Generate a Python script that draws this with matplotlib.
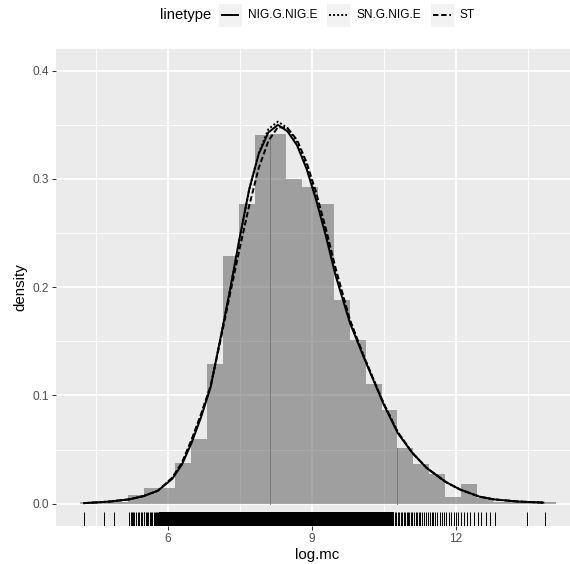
import numpy as np
import matplotlib
matplotlib.use("Agg")
import matplotlib.pyplot as plt
from matplotlib.patches import Rectangle
from matplotlib.lines import Line2D

plt.rcParams['font.family'] = ['Liberation Sans', 'DejaVu Sans']

W, H, DPI = 570, 564, 100

# ---------------- data ----------------
bin_left = 4.179
bin_width = 0.3305
bin_heights = [0.0012, 0.0012, 0.0012, 0.008, 0.0147, 0.0147, 0.038, 0.060,
               0.129, 0.229, 0.277, 0.341, 0.342, 0.300, 0.293, 0.277,
               0.188, 0.151, 0.111, 0.087, 0.0515, 0.037, 0.027, 0.006,
               0.018, 0.005, 0.0013, 0.0028, 0.0028, 0.0013]
overlap_edges = [12, 20]   # bin edges where adjacent bars overlap (darker seam)

curve_x = [4.25, 4.8, 5.2, 5.5, 5.8, 6.1, 6.3, 6.5, 6.7, 6.9, 7.1, 7.3, 7.5,
           7.7, 7.9, 8.1, 8.3, 8.5, 8.7, 8.9, 9.1, 9.3, 9.5, 9.8, 10.1, 10.5,
           10.8, 11.1, 11.4, 11.8, 12.1, 12.5, 12.8, 13.3, 13.85]
nig_g_nig_e = [0.0005, 0.002, 0.004, 0.007, 0.012, 0.023, 0.036, 0.056, 0.080,
               0.108, 0.152, 0.197, 0.245, 0.290, 0.323, 0.343, 0.350, 0.344,
               0.331, 0.309, 0.280, 0.247, 0.211, 0.167, 0.134, 0.092, 0.065,
               0.047, 0.033, 0.020, 0.013, 0.0065, 0.004, 0.002, 0.001]
sn_g_nig_e = [0.0005, 0.002, 0.004, 0.007, 0.012, 0.024, 0.037, 0.058, 0.082,
              0.109, 0.152, 0.197, 0.244, 0.290, 0.324, 0.346, 0.353, 0.347,
              0.334, 0.312, 0.283, 0.250, 0.214, 0.169, 0.135, 0.093, 0.066,
              0.047, 0.033, 0.020, 0.013, 0.0065, 0.004, 0.002, 0.001]
st = [0.0005, 0.002, 0.004, 0.007, 0.012, 0.024, 0.038, 0.059, 0.083,
      0.109, 0.150, 0.193, 0.235, 0.275, 0.310, 0.335, 0.348, 0.347,
      0.336, 0.315, 0.287, 0.254, 0.218, 0.170, 0.135, 0.093, 0.066,
      0.047, 0.033, 0.020, 0.013, 0.0065, 0.004, 0.002, 0.001]

rug_obs = [4.26, 4.677, 4.885,
           5.20, 5.23, 5.26, 5.28, 5.31, 5.35, 5.38, 5.40, 5.44, 5.47, 5.50,
           5.52, 5.55, 5.58, 5.60, 5.63, 5.66, 5.68, 5.71, 5.73, 5.76, 5.78,
           5.80,
           10.74, 10.77, 10.80, 10.83, 10.86, 10.89, 10.92, 10.95, 10.98,
           11.01, 11.04, 11.07, 11.10, 11.14, 11.17, 11.20, 11.24, 11.27,
           11.31, 11.35, 11.38, 11.42, 11.46, 11.50, 11.54, 11.58, 11.62,
           11.67, 11.72, 11.76, 11.81, 11.86, 11.91, 11.96, 12.02, 12.06,
           12.11, 12.18, 12.24, 12.31, 12.39, 12.47, 12.54, 12.63, 12.72, 12.82,
           13.48, 13.86]
rug_dense_span = [5.82, 10.72]

series = [("NIG.G.NIG.E", nig_g_nig_e, "-"),
          ("SN.G.NIG.E", sn_g_nig_e, (0, (1.0, 1.1))),
          ("ST", st, (0, (2.8, 1.4)))]

# ---------------- figure ----------------
fig = plt.figure(figsize=(W / DPI, H / DPI), dpi=DPI)
fig.patch.set_facecolor("white")

def fx(px):
    return px / W

def fy(py):
    return 1 - py / H

ax_l, ax_r, ax_t, ax_b = 56, 579, 49, 526
ax = fig.add_axes([fx(ax_l), fy(ax_b), (ax_r - ax_l) / W, (ax_b - ax_t) / H])
ax.set_facecolor("#EBEBEB")
for s in ax.spines.values():
    s.set_visible(False)

xmin = 3.677
xmax = xmin + (ax_r - ax_l) / 48.0
ax.set_xlim(xmin, xmax)
ax.set_ylim(-0.0206, 0.4201)

ax.set_xticks([6, 9, 12])
ax.set_xticks([4.5, 7.5, 10.5, 13.5], minor=True)
ax.set_yticks([0.0, 0.1, 0.2, 0.3, 0.4])
ax.set_yticks([0.05, 0.15, 0.25, 0.35], minor=True)
ax.set_yticklabels(["0.0", "0.1", "0.2", "0.3", "0.4"])
ax.grid(which="major", color="white", linewidth=1.3)
ax.grid(which="minor", color="white", linewidth=0.65)
ax.set_axisbelow(True)
ax.tick_params(which="major", length=2.7, width=0.75, color="#333333",
               labelsize=8.6, labelcolor="#4D4D4D", pad=2.0)
ax.tick_params(which="minor", length=0)

# histogram
edges = bin_left + bin_width * np.arange(len(bin_heights) + 1)
ax.bar(edges[:-1], bin_heights, width=bin_width, align="edge",
       color="#555555", alpha=0.5, linewidth=0, zorder=2)
for k in overlap_edges:
    top = min(bin_heights[k - 1], bin_heights[k])
    ax.plot([edges[k], edges[k]], [0, top], color="#7A7A7A", lw=0.7, zorder=2.5)

# density curves
for name, yv, ls in series:
    ax.plot(curve_x, yv, color="black", lw=1.4, linestyle=ls,
            dash_capstyle="butt", solid_capstyle="butt", zorder=3)

# rug
tr = ax.get_xaxis_transform()
ax.vlines(rug_obs, 0, 0.03, transform=tr, color="black", lw=0.7, zorder=4)
ax.add_patch(Rectangle((rug_dense_span[0], 0), rug_dense_span[1] - rug_dense_span[0],
                       0.03, transform=tr, color="black", lw=0, zorder=4))

ax.set_xlabel("log.mc", fontsize=10.8, color="black", labelpad=2.5)
ax.set_ylabel("density", fontsize=10.8, color="black", labelpad=4)

# legend (top, horizontal)
ly = 15
fig.text(fx(160), fy(ly), "linetype", fontsize=10.6, ha="left", va="center")
keys = [(218.5, 248.3), (326.5, 356.7), (430.5, 460.0)]
for (kx, tx), (name, yv, ls) in zip(keys, series):
    fig.add_artist(Rectangle((fx(kx), fy(ly + 11.5)), 23 / W, 23 / H,
                             transform=fig.transFigure, color="#F2F2F2", lw=0))
    fig.add_artist(Line2D([fx(kx + 2.5), fx(kx + 20.5)], [fy(ly), fy(ly)],
                          transform=fig.transFigure, color="black", lw=1.4,
                          linestyle=ls, dash_capstyle="butt", solid_capstyle="butt"))
    fig.text(fx(tx), fy(ly), name, fontsize=8.6, ha="left", va="center")

fig.savefig("out.png", dpi=DPI)
